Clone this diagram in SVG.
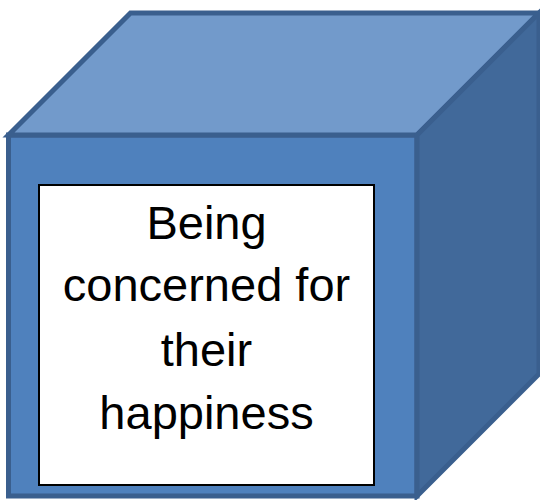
<svg xmlns="http://www.w3.org/2000/svg" width="540" height="500" viewBox="0 0 540 500">
<style>
.edge{stroke:#3A5F8E;stroke-width:5;stroke-linejoin:miter}
.lbl{font-family:"Liberation Sans",Arial,sans-serif;font-size:47px;fill:#000;text-anchor:middle}
</style>
<rect width="540" height="500" fill="#fff"/>
<g id="cube">
<polygon class="edge" fill="#4F81BD" points="8.5,135 417,135 417,496 8.5,496"/>
<polygon class="edge" fill="#729ACB" points="8.5,135 130.5,13 539,13 417,135"/>
<polygon class="edge" fill="#41699A" points="417,135 539,13 539,374 417,496"/>
</g>
<g id="label">
<rect x="39" y="185" width="335" height="300" fill="#fff" stroke="#000" stroke-width="2"/>
<text class="lbl" x="206.5" y="239">Being</text>
<text class="lbl" x="206.5" y="301">concerned for</text>
<text class="lbl" x="206.5" y="366">their</text>
<text class="lbl" x="206.5" y="429">happiness</text>
</g>
<g id="connectors"/>
</svg>
